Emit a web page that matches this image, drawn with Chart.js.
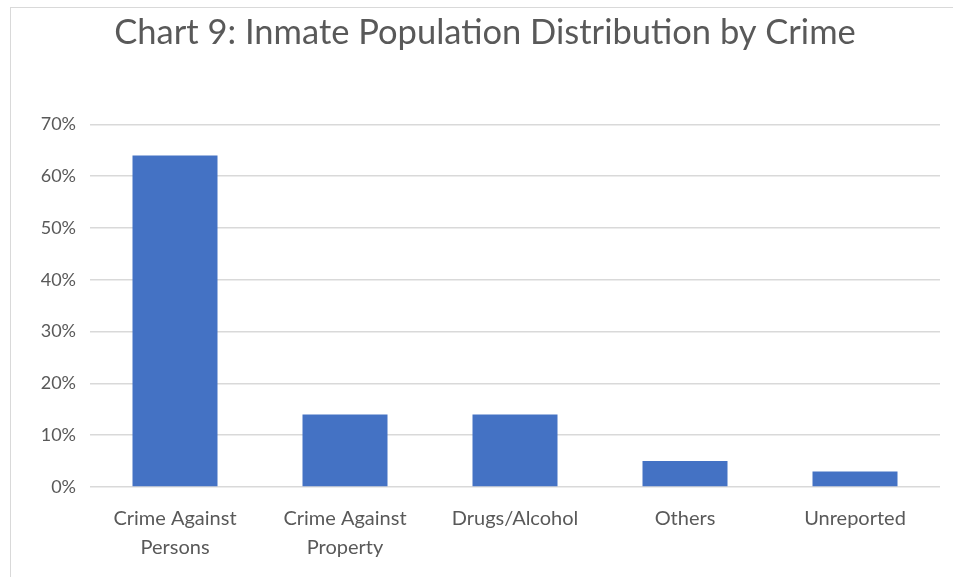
<!DOCTYPE html>
<html>
<head>
<meta charset="utf-8">
<script src="https://cdn.jsdelivr.net/npm/chart.js@4"></script>
<style>
  html, body { margin: 0; padding: 0; background: #fff; }
  #wrap { position: relative; width: 953px; height: 577px; overflow: hidden; }
  #frame { position: absolute; left: 10px; top: 7px; width: 960px; height: 580px; border: 1px solid #d9d9d9; box-sizing: border-box; }
  canvas { position: absolute; left: 0; top: 0; }
</style>
</head>
<body>
<div id="wrap">
  <div id="frame"></div>
  <canvas id="barChart" width="953" height="577"></canvas>
</div>
<script>
// data
var categories = [
  ["Crime Against", "Persons"],
  ["Crime Against", "Property"],
  "Drugs/Alcohol",
  "Others",
  "Unreported"
];
var shares = [64, 14, 14, 5, 3];
var tickValues = [0, 10, 20, 30, 40, 50, 60, 70];
var chartTitle = "Chart 9: Inmate Population Distribution by Crime";

var textGrey = "#595959";
var fontFamily = "Lato, 'Open Sans', sans-serif";

var ctx = document.getElementById("barChart").getContext("2d");
var myBarChart = new Chart(ctx, {
  type: "bar",
  data: {
    labels: categories,
    datasets: [
      {
        label: "Share of inmates",
        data: shares,
        backgroundColor: "#4472C4",
        borderWidth: 0,
        barPercentage: 0.5,
        categoryPercentage: 1
      }
    ]
  },
  options: {
    responsive: false,
    animation: false,
    layout: {
      padding: { left: 30, right: 13, top: 9, bottom: 14 }
    },
    plugins: {
      legend: { display: false },
      tooltip: { enabled: false },
      title: {
        display: true,
        text: chartTitle,
        color: textGrey,
        font: { family: fontFamily, size: 34.5, weight: "normal" },
        padding: { top: 3, bottom: 71 }
      }
    },
    scales: {
      x: {
        afterFit: function (scale) {
          scale.height = 76;
        },
        grid: { display: false },
        border: { display: false },
        ticks: {
          color: textGrey,
          font: { family: fontFamily, size: 20, lineHeight: 1.45 },
          padding: 9,
          maxRotation: 0,
          autoSkip: false
        }
      },
      y: {
        min: 0,
        max: 70,
        afterFit: function (scale) {
          scale.width = 60;
        },
        afterBuildTicks: function (scale) {
          scale.ticks = tickValues.map(function (v) {
            return { value: v };
          });
        },
        grid: { color: "#d9d9d9", lineWidth: 1.5, drawTicks: false },
        border: { display: false },
        ticks: {
          color: textGrey,
          font: { family: fontFamily, size: 18 },
          padding: 14,
          callback: function (v) {
            return v + "%";
          }
        }
      }
    }
  }
});
</script>
</body>
</html>
